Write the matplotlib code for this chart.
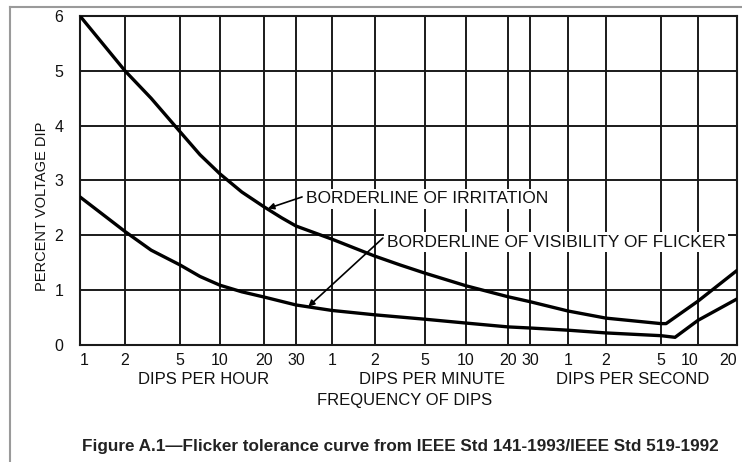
import numpy as np
import matplotlib
matplotlib.use('Agg')
import matplotlib.pyplot as plt
from matplotlib.lines import Line2D

plt.rcParams['font.family'] = ['Liberation Sans', 'DejaVu Sans']

# frequency in dips per hour, tick labels by unit
tick_freq = [1, 2, 5, 10, 20, 30, 60, 120, 300, 600, 1200, 1800, 3600, 7200, 18000, 36000, 72000]
tick_labels = ['1', '2', '5', '10', '20', '30', '1', '2', '5', '10', '20', '30', '1', '2', '5', '10', '20']
# the printed grid is not exactly logarithmic, relative spacing of the grid lines
tick_pos = [0, 45, 100, 140, 184, 216, 252, 295, 345, 386, 428, 450, 488, 526, 581, 618, 657]

# borderline of irritation
irr_freq = [1, 2, 3.09, 5, 7.07, 10, 14.1, 20, 25, 30, 60, 120, 190, 300, 600, 1200, 1800,
            3600, 7200, 18000, 19800, 36000, 72000]
irr_dip = [6.0, 5.0, 4.50, 3.89, 3.47, 3.12, 2.79, 2.52, 2.32, 2.17, 1.93, 1.62, 1.46, 1.31, 1.08, 0.88, 0.79,
           0.62, 0.49, 0.39, 0.39, 0.80, 1.36]

# borderline of visibility of flicker
vis_freq = [1, 2, 3.09, 5, 7.07, 10, 14.1, 20, 30, 60, 120, 300, 600, 1200, 1800,
            3600, 7200, 18000, 23400, 36000, 72000]
vis_dip = [2.70, 2.07, 1.73, 1.46, 1.25, 1.09, 0.97, 0.875, 0.73, 0.63, 0.55, 0.47, 0.40, 0.33, 0.31,
           0.27, 0.22, 0.17, 0.14, 0.45, 0.84]

lt = np.log10(tick_freq)


def fwd(x):
    x = np.clip(np.asarray(x, dtype=float), 1e-6, None)
    return np.interp(np.log10(x), lt, tick_pos)


def inv(p):
    return 10 ** np.interp(p, tick_pos, lt)


fig = plt.figure(figsize=(7.42, 4.62), dpi=100)
ax = fig.add_axes([80 / 742, 1 - 345 / 462, 657 / 742, 329 / 462])

ax.set_xscale('function', functions=(fwd, inv))
ax.set_xlim(1, 72000)
ax.set_ylim(0, 6)

ax.plot(irr_freq, irr_dip, color='black', lw=2.4, solid_joinstyle='round', solid_capstyle='round', zorder=3)
ax.plot(vis_freq, vis_dip, color='black', lw=2.4, solid_joinstyle='round', solid_capstyle='round', zorder=3)

ax.set_xticks(tick_freq)
ax.set_xticklabels(tick_labels)
ax.set_xticks([], minor=True)
ax.set_yticks(range(7))
ax.tick_params(axis='both', length=0, labelsize=11.5, labelcolor='#111111')
ax.tick_params(axis='x', pad=6)
ax.tick_params(axis='y', pad=12)
xl = ax.get_xticklabels()
xl[0].set_ha('left')
xl[-1].set_ha('right')
xl[-2].set_ha('right')

ax.grid(True, color='#1a1a1a', lw=1.4)
ax.set_axisbelow(True)
for s in ax.spines.values():
    s.set_linewidth(1.5)
    s.set_color('#1a1a1a')

# labels on the curves
ax.text(0.344, 0.444, 'BORDERLINE OF IRRITATION', transform=ax.transAxes, fontsize=12.5,
        ha='left', va='center', zorder=2, color='#111111',
        bbox=dict(facecolor='white', edgecolor='none', pad=2))
ax.annotate('', xy=(21, 2.49), xytext=(0.338, 0.450), textcoords='axes fraction',
            arrowprops=dict(arrowstyle='-|>', color='black', lw=1.2, mutation_scale=9,
                            shrinkA=0, shrinkB=0), zorder=4)
ax.text(0.467, 0.313, 'BORDERLINE OF VISIBILITY OF FLICKER', transform=ax.transAxes, fontsize=12.5,
        ha='left', va='center', zorder=2, color='#111111',
        bbox=dict(facecolor='white', edgecolor='none', pad=2))
ax.annotate('', xy=(38, 0.70), xytext=(0.461, 0.325), textcoords='axes fraction',
            arrowprops=dict(arrowstyle='-|>', color='black', lw=1.2, mutation_scale=9,
                            shrinkA=0, shrinkB=0), zorder=4)

# axis titles
fig.text(42 / 742, 1 - 206 / 462, 'PERCENT VOLTAGE DIP', rotation=90, fontsize=10.5,
         ha='center', va='center', color='#111111')
fig.text(204 / 742, 1 - 379 / 462, 'DIPS PER HOUR', fontsize=12, ha='center', va='center', color='#111111')
fig.text(432 / 742, 1 - 380 / 462, 'DIPS PER MINUTE', fontsize=12, ha='center', va='center', color='#111111')
fig.text(633 / 742, 1 - 380 / 462, 'DIPS PER SECOND', fontsize=12, ha='center', va='center', color='#111111')
fig.text(405 / 742, 1 - 400 / 462, 'FREQUENCY OF DIPS', fontsize=12, ha='center', va='center', color='#111111')
fig.text(400 / 742, 1 - 447 / 462,
         'Figure A.1\u2014Flicker tolerance curve from IEEE Std 141-1993/IEEE Std 519-1992',
         fontsize=12.3, fontweight='bold', color='#222222', ha='center', va='center')

# page border of the scan
fig.add_artist(Line2D([10 / 742, 10 / 742], [0, 1 - 7 / 462], color='#9a9a9a', lw=1.5))
fig.add_artist(Line2D([10 / 742, 1], [1 - 7 / 462, 1 - 7 / 462], color='#9a9a9a', lw=1.5))

fig.savefig('out.png', dpi=100)
